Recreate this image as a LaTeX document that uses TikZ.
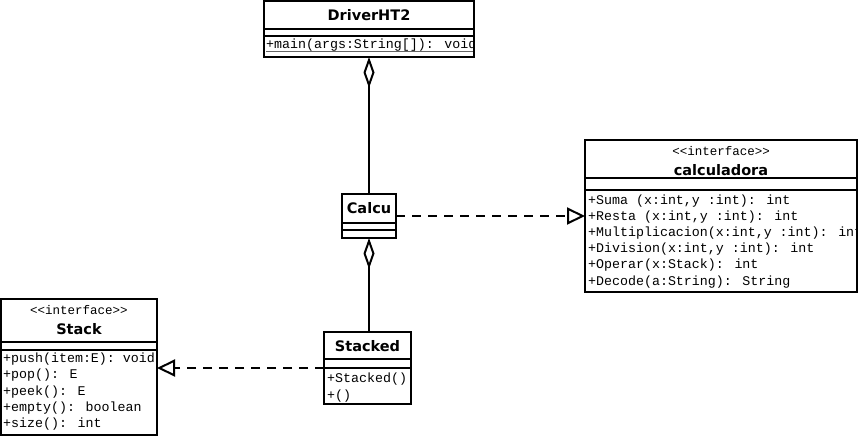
\documentclass[tikz,border=0pt]{standalone}
\usepackage{fontspec}
\setmainfont{DejaVu Sans}
\newfontfamily\monof{Liberation Mono}
\usetikzlibrary{arrows.meta}
\begin{document}
\begin{tikzpicture}[x=1pt,y=-1pt,
 box/.style={draw, line width=2pt, fill=white, inner sep=0pt, outer sep=0pt},
 ttl/.style={font=\fontsize{14.5}{16}\selectfont\bfseries, inner sep=0pt},
 ster/.style={font=\monof\fontsize{12.5}{14}\selectfont, inner sep=0pt},
 mth/.style={font=\monof\fontsize{13.3}{15}\selectfont, anchor=west, inner sep=0pt},
 sep/.style={line width=2pt},
 dep/.style={line width=2pt, dash pattern=on 9pt off 7pt, -{Triangle[open,length=18pt,width=17pt,line width=2pt]}},
 agg/.style={line width=2pt, {Diamond[open,length=31pt,width=11pt,line width=2pt]}-},
]
\useasboundingbox[fill=white] (0,0) rectangle (858,436);

% DriverHT2
\node[box, minimum width=210pt, minimum height=56pt] (driver) at (369,29) {};
\draw[sep] (264,29) -- (474,29);
\draw[sep] (264,36) -- (474,36);
\node[ttl] (driverT) at (369,15) {DriverHT2};
\begin{scope}
\clip (265,37) rectangle (473,56);
\node[mth] (driverM1) at (266,45.5) {+main(args:String[]): void};
\draw[line width=1pt, black!60] (driverM1.west |- 0,52) -- (473,52);
\end{scope}

% Calcu
\node[box, minimum width=54pt, minimum height=44pt] (calcu) at (369,216) {};
\draw[sep] (342,223) -- (396,223);
\draw[sep] (342,230) -- (396,230);
\node[ttl] (calcuT) at (369,208) {Calcu};

% calculadora
\node[box, minimum width=272pt, minimum height=152pt] (calc) at (721,216) {};
\draw[sep] (585,178) -- (857,178);
\draw[sep] (585,190) -- (857,190);
\node[ster] (calcS) at (721,151) {<<interface>>};
\node[ttl] (calcT) at (721,170) {calculadora};
\begin{scope}
\clip (585,190) rectangle (856,292);
\node[mth] (calcM1) at (588,201) {+Suma (x:int,y :int): int};
\node[mth] (calcM2) at (588,217) {+Resta (x:int,y :int): int};
\node[mth] (calcM3) at (588,233) {+Multiplicacion(x:int,y :int): int};
\node[mth] (calcM4) at (588,249.5) {+Division(x:int,y :int): int};
\node[mth] (calcM5) at (588,265.5) {+Operar(x:Stack): int};
\node[mth] (calcM6) at (588,282) {+Decode(a:String): String};
\end{scope}

% Stack
\node[box, minimum width=156pt, minimum height=136pt] (stack) at (79,367) {};
\draw[sep] (1,342) -- (157,342);
\draw[sep] (1,350) -- (157,350);
\node[ster] (stackS) at (79,310) {<<interface>>};
\node[ttl] (stackT) at (79,329) {Stack};
\node[mth] (stackM1) at (3,359) {+push(item:E): void};
\node[mth] (stackM2) at (3,375) {+pop(): E};
\node[mth] (stackM3) at (3,392) {+peek(): E};
\node[mth] (stackM4) at (3,408) {+empty(): boolean};
\node[mth] (stackM5) at (3,424) {+size(): int};

% Stacked
\node[box, minimum width=87pt, minimum height=72pt] (stacked) at (367.5,368) {};
\draw[sep] (324,359) -- (411,359);
\draw[sep] (324,368) -- (411,368);
\node[ttl] (stackedT) at (367.5,346) {Stacked};
\node[mth] (stackedM1) at (327,379) {+Stacked()};
\node[mth] (stackedM2) at (327,396) {+()};

% connectors
\draw[agg] (driver.south) -- (calcu.north);
\draw[agg] (calcu.south) -- (calcu.south |- stacked.north);
\draw[dep] (calcu.east) -- (calcu.east -| calc.west);
\draw[dep] (stacked.west) -- (stacked.west -| stack.east);
\end{tikzpicture}
\end{document}
